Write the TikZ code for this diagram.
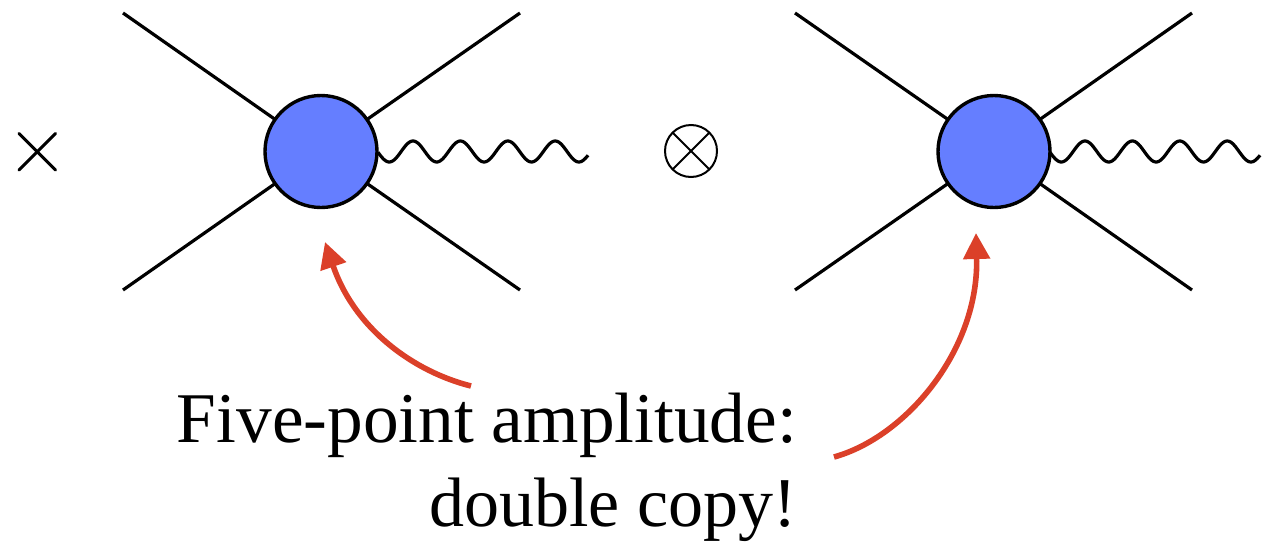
\documentclass[tikz,border=0pt]{standalone}
\usepackage{fontspec}
\setmainfont{Liberation Serif}
\usetikzlibrary{arrows.meta}
\definecolor{blobblue}{HTML}{657EFF}
\definecolor{arrowred}{HTML}{DB4029}
\tikzset{
  leg/.style={draw=black,line width=3.2pt},
  blob/.style={circle,draw=black,line width=3.4pt,fill=blobblue,minimum size=112pt,inner sep=0pt,outer sep=0pt},
  wavy/.style={draw=black,line width=3.2pt,line join=round},
  thin mark/.style={draw=black,line width=3pt,line cap=round},
  otimes/.style={circle,draw=black,line width=2pt,minimum size=52pt,inner sep=0pt,outer sep=0pt},
  otline/.style={draw=black,line width=2pt},
  callout/.style={draw=arrowred,line width=5.6pt,-{Triangle[length=26pt,width=26pt,fill=arrowred]}},
  caption/.style={font=\fontsize{71.3}{84}\selectfont,inner sep=0pt,anchor=base east},
  caption two/.style={font=\fontsize{70}{84}\selectfont,inner sep=0pt,anchor=base east}
}
\begin{document}
\begin{tikzpicture}[x=1pt,y=-1pt]
\useasboundingbox[fill=white] (0,0) rectangle (1279,544);
% cross
\coordinate (c1) at (19,133.5); \coordinate (c2) at (55.5,170);
\coordinate (c3) at (55.5,133.5); \coordinate (c4) at (19,170);
\draw[thin mark] (c1) -- (c2);
\draw[thin mark] (c3) -- (c4);
% left diagram
\node[blob] (A) at (321,151.5) {};
\coordinate (A1) at (123,13); \coordinate (A2) at (520,13);
\coordinate (A3) at (123,290); \coordinate (A4) at (520,290);
\draw[leg] (A1) -- (A); \draw[leg] (A2) -- (A);
\draw[leg] (A3) -- (A); \draw[leg] (A4) -- (A);
\draw[wavy] plot[domain=378:588,samples=160,smooth] (\x,{151.5-10.5*cos((\x-413)/47.4*360)});
% otimes
\node[otimes] (O) at (691,151) {};
\draw[otline] (O.45) -- (O.225);
\draw[otline] (O.135) -- (O.315);
% right diagram
\node[blob] (B) at (994,151.5) {};
\coordinate (B1) at (795,13); \coordinate (B2) at (1192,13);
\coordinate (B3) at (795,290); \coordinate (B4) at (1192,290);
\draw[leg] (B1) -- (B); \draw[leg] (B2) -- (B);
\draw[leg] (B3) -- (B); \draw[leg] (B4) -- (B);
\draw[wavy] plot[domain=1050:1260,samples=160,smooth] (\x,{151.5-10.5*cos((\x-1085)/47.4*360)});
% text
\node[caption] (T1) at (797,442) {Five-point amplitude:};
\node[caption two] (T2) at (797,526) {double copy!};
% arrows
\coordinate (S1) at (471,386); \coordinate (E1) at (325,242);
\coordinate (S2) at (834,457); \coordinate (E2) at (976,233);
\draw[callout] (S1) .. controls (415,372) and (355,330) .. (E1);
\draw[callout] (S2) .. controls (906,437) and (979,350) .. (E2);
\end{tikzpicture}
\end{document}
